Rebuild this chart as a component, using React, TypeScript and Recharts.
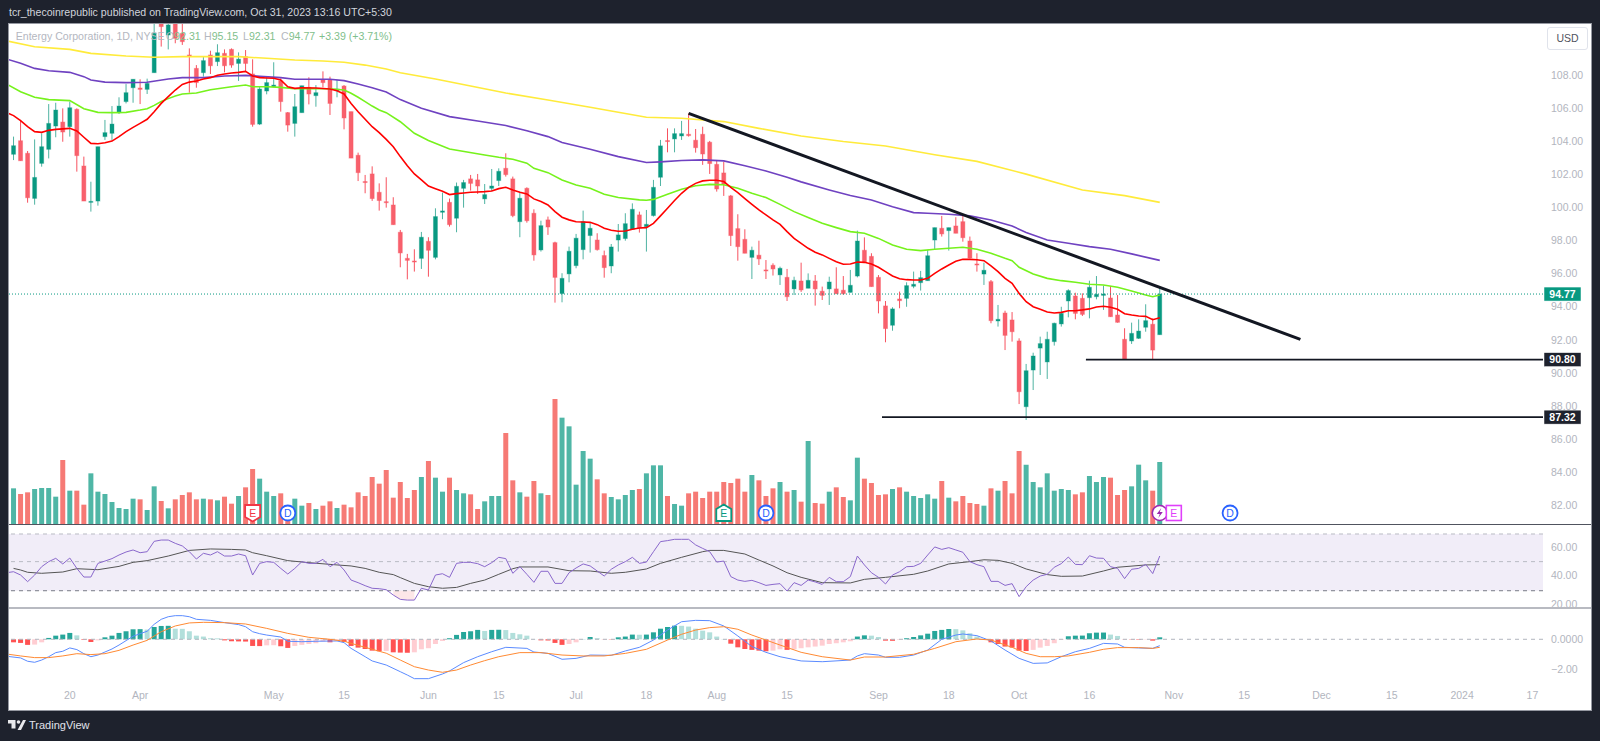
import React from 'react';
import { ComposedChart, Bar, Line, Area, XAxis, YAxis, Cell, ReferenceLine, ReferenceArea, ReferenceDot } from 'recharts';

const FONT = '"Liberation Sans", Arial, sans-serif';
const SLOTS = 219;

const opens = [
105.7,103.23,104.05,103.29,100.56,102.68,103.53,104.94,105.18,104.9,
105.95,102.52,100.32,100.4,104.3,104.5,105.75,106.42,107.26,107.24,
107.16,108.17,111.3,110.45,111.5,110.55,109.24,108.43,108.17,109.24,
108.84,109.34,109.58,108.73,109.14,108.09,105.06,107.06,107.32,107.67,
105.75,105.1,105.75,107.28,106.78,107.73,107.73,107.08,107.36,105.81,
103.17,101.58,102.04,100.93,100.36,100.16,98.51,96.93,96.77,96.93,
97.96,96.99,99.72,100.32,99.36,101.17,101.74,101.68,100.53,101.17,
101.64,102.38,101.74,99.15,101.17,99.66,97.44,99.26,97.88,94.8,
95.99,96.49,97.46,98.31,98.04,97.1,96.47,98.04,98.13,98.69,
99.56,98.85,99.52,101.84,104.06,104.16,104.34,104.44,104.08,104.44,
103.96,102.62,102.1,100.71,98.73,98.08,96.99,97.12,96.23,96.51,
95.93,95.78,95.08,95.56,95.12,95.56,94.94,95.08,95.08,95.0,
94.87,95.86,97.42,97.05,95.78,94.05,92.88,94.47,94.51,95.24,
95.46,95.58,98.04,98.75,98.61,98.89,99.15,97.98,96.59,95.98,
95.52,93.14,93.62,93.2,91.93,87.95,90.17,91.5,90.66,91.89,
92.96,94.35,94.65,94.51,94.55,94.61,94.69,94.53,93.5,92.03,
91.93,92.09,92.76,92.94,92.31];

const closes = [
103.1,103.75,102.84,100.6,101.83,103.69,105.1,105.91,104.58,106.05,
103.15,100.4,100.38,103.69,104.54,105.06,106.15,106.96,107.77,107.16,
107.52,110.55,110.96,111.06,110.25,110.05,109.18,107.57,108.9,108.59,
109.38,108.59,108.63,108.99,108.73,105.04,107.18,107.57,107.42,106.42,
105.0,106.11,107.38,106.88,106.96,107.57,106.31,107.18,105.43,103.0,
102.12,101.52,100.55,100.43,100.3,98.97,97.26,96.81,96.73,98.21,
97.42,99.46,99.8,98.97,101.29,101.52,101.47,101.31,100.79,101.31,
102.2,102.0,99.52,100.57,99.21,97.14,98.91,98.83,95.78,95.72,
97.36,98.15,99.15,98.75,97.46,96.37,97.62,98.35,99.03,99.9,
98.77,98.99,101.23,103.74,104.0,104.48,104.48,104.36,103.63,103.25,
102.67,101.13,101.43,98.31,97.64,97.24,97.42,96.9,96.19,96.29,
96.33,94.61,95.6,95.02,95.6,95.08,94.69,95.5,94.79,94.79,
95.3,97.98,96.71,95.22,94.35,92.68,93.87,94.37,95.28,95.36,
95.76,97.09,98.79,98.41,98.79,98.45,98.18,96.95,96.53,96.21,
93.16,93.24,92.27,92.49,88.86,90.13,91.02,91.77,92.03,93.0,
93.6,94.98,93.6,93.54,95.18,94.75,94.77,93.4,93.06,90.84,
92.39,92.53,93.16,91.38,94.77];

const highs = [
105.9,104.3,105.31,103.43,104.13,104.5,106.27,106.35,106.01,106.42,
106.01,103.09,101.57,103.69,105.31,106.15,106.68,107.48,107.77,107.77,
107.81,111.4,111.8,112,111.7,111.2,109.64,108.63,109.14,109.5,
109.89,109.58,109.64,109.4,109.54,108.98,107.32,107.89,108.8,107.83,
105.79,106.88,107.38,107.89,107.42,108.25,107.93,107.73,107.42,105.81,
103.33,101.98,102.5,101.47,101.84,100.63,98.65,97.2,97.48,98.53,
98.21,99.96,100.91,100.55,101.52,101.68,101.98,102.04,101.43,102.34,
102.38,103.29,101.88,100.97,101.23,99.9,99.21,99.46,97.94,96.03,
97.64,98.41,99.82,99.09,98.45,97.4,97.8,99.01,99.66,100.26,
99.76,99.86,101.68,104.1,104.8,104.8,105.25,105.71,104.76,104.9,
104.04,102.83,102.79,100.77,99.6,98.69,97.64,98.0,96.83,96.63,
96.43,96.29,95.82,96.67,96.02,95.92,95.22,95.82,96.39,95.86,
96.23,98.61,98.2,97.24,95.92,94.35,93.97,94.92,95.48,96.13,
96.17,97.44,98.79,99.5,98.79,99.42,99.5,98.25,97.24,96.67,
95.62,94.11,93.76,93.68,92.09,90.54,91.22,92.19,92.49,93.04,
94.0,95.06,94.85,94.81,95.58,95.86,95.28,95.26,94.71,92.7,
93.04,93.24,94.15,93.3,95.15];

const lows = [
103,102.88,102.84,100.3,100.18,102.48,102.98,104.26,103.99,104.3,
102.18,100.4,99.76,100.12,104.1,104.1,105.67,106.31,106.35,106.27,
106.88,108.17,109.75,109.58,109.95,109.85,106.96,107.26,107.93,108.09,
108.57,108.19,108.47,107.67,108.23,104.9,105.0,106.86,107.28,105.81,
104.6,104.3,105.75,106.25,106.11,107.28,105.61,106.68,104.74,103.0,
101.61,100.87,100.41,99.82,100.0,98.97,96.39,95.66,96.13,96.29,
95.82,96.87,99.3,98.85,98.51,100.0,101.03,100.83,100.22,101.01,
101.31,101.88,99.42,98.21,99.09,96.79,97.34,98.35,94.25,94.27,
95.48,96.33,96.87,97.28,97.4,95.76,96.03,97.34,98.0,98.65,
98.49,97.34,99.46,101.31,103.35,103.35,104.1,104.3,103.33,102.59,
102.04,100.97,100.71,97.68,96.79,97.24,95.68,96.53,95.68,95.89,
95.32,94.35,94.71,94.9,95.12,94.07,94.41,94.11,94.79,94.73,
94.87,95.78,96.69,95.22,93.6,91.85,92.55,93.91,94.0,95.12,
94.98,95.58,97.48,98.25,97.4,98.45,97.94,96.93,96.13,95.32,
93.0,92.8,91.38,91.89,88.11,87.15,88.96,89.87,89.63,91.65,
92.8,93.36,93.24,93.44,93.3,94.45,93.81,93.4,93.04,90.84,
91.75,92.05,92.49,90.84,92.31];

const volumes = [
.82,1.07,.90,.95,1.05,1.08,1.08,.82,1.92,1.00,
1.00,.58,1.52,.97,.90,.66,.48,.45,.76,.74,
.42,1.13,.69,.47,.74,.87,.95,.74,.76,.74,
.71,.82,.61,.84,1.10,1.65,1.36,.97,.84,.92,
.35,.76,.55,.63,.45,.55,.68,.48,.58,.50,
.95,.84,1.41,1.21,1.62,.79,1.26,.78,1.02,1.41,
1.89,1.39,.97,1.39,1.02,.92,.89,.45,.68,.84,
.84,2.73,1.31,.95,.82,1.29,.92,.87,3.75,3.19,
2.93,1.18,2.19,1.96,1.34,.92,.81,.74,.87,1.02,
1.05,1.52,1.76,1.76,.84,.60,.55,.92,.97,.78,
.97,.97,1.26,1.23,1.36,.97,1.47,1.31,.84,1.07,
1.26,.97,1.02,.67,2.49,.63,.61,.97,1.10,.81,
.71,1.99,1.36,1.23,.87,.89,1.05,1.10,.97,.84,
.78,.89,.76,1.29,.79,.68,.84,.63,.60,.55,
1.07,1.00,1.29,.92,2.19,1.78,1.26,1.10,1.52,1.00,
1.05,1.02,.89,.95,1.44,1.26,1.41,1.39,.87,1.02,
1.13,1.78,1.31,1.00,1.86];

const rsi = [
42,42.7,40.4,35.8,40.4,46.2,49.7,52,48.1,52.2,
45,39,39,48.5,50.1,51.8,54.3,56.4,57.8,55.9,
56.6,63.8,64.7,64.7,62.4,60.6,56.6,51.5,55.5,54.3,
56.6,53.6,53.6,55,53.8,40.4,48.5,49.7,49.2,45,
41.1,45,49.7,48.5,48.5,51.3,46.2,49.2,43.9,36.9,
35.1,33,31.2,30.9,30.2,26.5,23.5,23,23,31.2,
30,40.4,41.3,38.8,48.5,49.2,49.2,48.3,46.2,49,
52.7,51.8,41.6,46.2,40.9,35.3,43,43,34.6,34.6,
42,45.3,48.1,46.7,43.2,39.7,44.4,47.4,49.7,52.7,
48.5,49.4,56.6,63.6,64.3,65.2,65.2,65.2,61.3,58.9,
56.6,49.4,50.1,39.3,36.9,36,36.7,35.1,33.2,33.9,
34.4,29.3,35.1,33.2,36.9,35.6,33.9,38.8,35.8,35.8,
39.3,53.6,47.4,42,38.8,34.2,40.4,42.7,46.2,46.4,
48.5,54.3,59.9,58.2,59.4,57.8,56.2,49.7,47.6,46.2,
36,36,33.2,34.4,25.4,32.3,36.9,39.7,40.9,45.8,
48.3,52.9,47.8,47.6,53.8,52.2,52,46.2,45,37.9,
44.4,45,47.8,41.4,53.6];

const macdHist = [
-.18,-.2,-.24,-.37,-.35,-.2,.09,.24,.31,.42,
.26,-.04,-.18,-.07,.13,.24,.42,.53,.66,.67,
.64,.81,.88,.89,.70,.69,.53,.24,.18,.07,
.06,-.07,-.13,-.14,-.15,-.44,-.45,-.40,-.39,-.46,
-.57,-.44,-.37,-.31,-.26,-.15,-.2,-.09,-.18,-.44,
-.55,-.64,-.75,-.79,-.77,-.86,-.88,-.89,-.86,-.66,
-.59,-.31,-.11,.07,.29,.48,.53,.62,.55,.62,
.63,.61,.42,.33,.24,.01,-.07,-.08,-.24,-.37,
-.31,-.2,.01,.15,.07,-.01,-.02,.13,.18,.31,
.30,.31,.46,.70,.81,.90,.89,.84,.70,.57,
.46,.18,.02,-.29,-.53,-.64,-.70,-.75,-.79,-.75,
-.66,-.70,-.66,-.59,-.53,-.48,-.42,-.31,-.26,-.2,
-.13,.18,.26,.24,.15,-.09,-.1,-.04,.07,.15,
.26,.37,.55,.62,.68,.67,.59,.4,.18,.02,
-.2,-.31,-.48,-.55,-.75,-.77,-.70,-.55,-.44,-.26,
-.04,.2,.24,.245,.4,.44,.445,.31,.22,-.01,
-.02,-.03,-.02,-.09,.13];

type Pt = [number, number];

const ma20: Pt[] = [[0,105.75],[1,105.57],[2,105.27],[3,104.9],[4,104.6],[5,104.56],[6,104.68],[7,104.74],[9,104.8],[10,104.64],[11,104.26],[12,103.89],[13,103.87],[14,103.93],[15,104.03],[16,104.3],[17,104.6],[18,104.86],[19,105.1],[20,105.35],[21,105.81],[22,106.31],[23,106.72],[24,107.12],[25,107.46],[26,107.6],[27,107.67],[28,107.79],[29,107.87],[30,108.01],[31,108.09],[32,108.15],[33,108.19],[34,108.25],[35,107.97],[36,107.87],[37,107.85],[38,107.83],[39,107.73],[40,107.32],[41,107.22],[42,107.26],[44,107.24],[46,107.18],[47,107.08],[48,106.88],[49,106.31],[50,105.81],[51,105.35],[52,104.9],[53,104.54],[54,104.13],[55,103.69],[56,103.09],[57,102.54],[58,102.04],[59,101.68],[60,101.31],[61,101.15],[62,100.99],[63,100.79],[64,100.85],[65,100.89],[66,100.93],[67,100.95],[68,100.97],[69,101.01],[70,101.15],[71,101.23],[72,101.07],[73,100.93],[74,100.83],[75,100.53],[76,100.37],[77,100.16],[78,99.76],[79,99.42],[80,99.26],[81,99.15],[82,99.13],[83,99.11],[84,98.97],[85,98.75],[86,98.63],[87,98.57],[88,98.59],[89,98.69],[90,98.77],[91,98.79],[92,99.05],[93,99.5],[94,99.96],[95,100.43],[96,100.87],[97,101.23],[98,101.47],[99,101.62],[100,101.66],[101,101.66],[102,101.58],[103,101.23],[104,100.91],[105,100.55],[106,100.2],[107,99.86],[108,99.56],[109,99.26],[110,98.99],[111,98.55],[112,98.14],[113,97.84],[114,97.54],[115,97.3],[116,97.14],[117,96.93],[118,96.73],[119,96.57],[120,96.59],[121,96.71],[122,96.69],[123,96.59],[124,96.39],[125,96.13],[126,95.86],[127,95.7],[128,95.64],[129,95.62],[130,95.62],[131,95.72],[132,96.02],[133,96.29],[134,96.53],[135,96.75],[136,96.87],[137,96.87],[138,96.85],[139,96.79],[140,96.47],[141,96.13],[142,95.72],[143,95.42],[144,94.81],[145,94.31],[146,94.0],[147,93.85],[148,93.68],[149,93.62],[150,93.66],[151,93.76],[152,93.76],[153,93.81],[154,93.87],[155,93.99],[156,94.03],[157,93.97],[158,93.85],[159,93.58],[160,93.5],[161,93.44],[162,93.42],[163,93.22],[164,93.34]];

const ma50: Pt[] = [[0,107.48],[2,107.02],[4,106.68],[6,106.54],[9,106.48],[11,105.99],[13,105.77],[15,105.75],[17,105.77],[19,105.91],[20,105.99],[21,106.19],[22,106.42],[23,106.6],[24,106.76],[25,106.88],[27,106.94],[29,107.14],[32,107.32],[34,107.42],[35,107.32],[37,107.32],[39,107.28],[41,107.2],[43,107.2],[46,107.2],[48,107.12],[49,106.92],[50,106.68],[51,106.42],[52,106.15],[53,105.91],[54,105.75],[56,105.2],[58,104.5],[60,104.06],[63,103.55],[68,103.19],[70,103.05],[72,102.93],[74,102.69],[75,102.38],[77,102.12],[79,101.68],[81,101.37],[83,101.17],[85,100.81],[87,100.61],[90,100.47],[91,100.45],[92,100.5],[94,100.81],[96,101.11],[98,101.33],[100,101.41],[102,101.39],[104,101.17],[106,100.87],[108,100.61],[110,100.2],[112,99.76],[114,99.4],[116,99.05],[118,98.79],[120,98.55],[122,98.45],[124,98.14],[126,97.74],[128,97.48],[130,97.4],[132,97.48],[134,97.54],[136,97.6],[138,97.48],[140,97.24],[142,96.93],[143,96.79],[144,96.39],[146,95.98],[148,95.72],[150,95.58],[152,95.48],[154,95.36],[156,95.32],[158,95.18],[160,94.96],[162,94.71],[163,94.61],[164,94.71]];

const ma100: Pt[] = [[0,109.0],[2,108.74],[4,108.43],[6,108.29],[9,108.19],[11,107.93],[12,107.73],[14,107.6],[17,107.57],[20,107.59],[23,107.79],[25,107.87],[28,107.87],[31,107.97],[34,108.01],[36,107.95],[39,107.87],[41,107.77],[46,107.77],[48,107.69],[50,107.48],[52,107.26],[54,107.0],[56,106.54],[59,106.02],[63,105.51],[67,105.25],[71,104.97],[74,104.66],[77,104.3],[79,103.94],[83,103.53],[87,103.09],[91,102.73],[93,102.77],[96,102.85],[99,102.89],[102,102.83],[105,102.54],[108,102.22],[111,101.84],[113,101.56],[117,101.07],[120,100.73],[123,100.46],[126,100.06],[129,99.7],[131,99.66],[134,99.6],[137,99.5],[140,99.25],[143,98.89],[145,98.5],[148,98.04],[151,97.84],[154,97.64],[157,97.48],[160,97.2],[164,96.81]];

const ma200: Pt[] = [[0,110.1],[4,109.74],[9,109.58],[12,109.34],[17,109.18],[21,109.1],[25,109.14],[29,109.14],[33,109.14],[37,109.04],[41,108.94],[45,108.88],[48,108.8],[51,108.63],[54,108.39],[56,108.17],[61,107.79],[66,107.36],[71,106.94],[77,106.52],[83,106.08],[87,105.77],[91,105.47],[96,105.41],[102,105.21],[107,104.8],[113,104.34],[119,104.0],[125,103.73],[132,103.2],[138,102.8],[145,102.03],[153,101.07],[159,100.73],[164,100.32]];

const rsiMa: Pt[] = [[1,45],[2,43.9],[3,42.3],[5,41.6],[8,42.5],[10,44.8],[13,44.1],[16,46.4],[18,49.2],[20,50.4],[23,53.6],[26,57.5],[29,58.5],[32,58.2],[34,57.8],[35,55.9],[37,53.8],[40,50.4],[43,49],[47,47.4],[49,46.7],[51,45],[53,42.3],[55,40.7],[56,38.6],[58,34.6],[60,32.3],[62,31.2],[64,31.8],[66,34.6],[68,36.9],[70,40.9],[72,44.8],[73,46],[77,46],[80,43.4],[83,43.2],[86,41.6],[88,42.3],[91,44.6],[93,48.5],[96,52.7],[99,56.6],[100,57.5],[102,57.5],[105,55],[107,50.8],[109,46.7],[111,42],[113,38.8],[116,35.1],[120,34.9],[122,37.4],[125,38.8],[129,40.9],[131,43.2],[134,48.1],[137,49.7],[139,51],[141,50.6],[143,48.5],[145,44.6],[148,40.7],[150,39.5],[153,39.7],[156,43.2],[158,45.8],[162,47.4],[164,47.6]];

const macdLine: Pt[] = [[0,-1.12],[2,-1.23],[3,-1.45],[4,-1.52],[5,-1.37],[6,-1.15],[7,-.88],[8,-.79],[9,-.57],[10,-.68],[11,-.95],[12,-1.15],[13,-1.04],[14,-.84],[15,-.64],[16,-.38],[17,-.09],[18,.2],[19,.37],[20,.53],[21,.99],[22,1.32],[23,1.49],[24,1.56],[25,1.56],[26,1.49],[27,1.32],[29,1.25],[31,1.1],[33,.97],[34,.83],[35,.5],[36,.37],[37,.28],[39,.15],[40,-.13],[42,-.16],[44,-.13],[47,-.11],[48,-.22],[49,-.6],[51,-1.15],[52,-1.43],[54,-1.7],[56,-2.14],[57,-2.36],[58,-2.6],[60,-2.6],[62,-2.29],[63,-2.09],[65,-1.54],[67,-1.15],[69,-.82],[71,-.53],[74,-.6],[75,-.84],[77,-.93],[79,-1.32],[81,-1.26],[83,-1.04],[86,-1.06],[88,-.77],[90,-.53],[92,-.05],[94,.61],[96,1.16],[98,1.25],[100,1.23],[102,.88],[104,.22],[106,-.48],[108,-.86],[110,-1.15],[113,-1.43],[116,-1.48],[120,-1.37],[121,-1.1],[122,-.95],[124,-1.04],[125,-1.19],[127,-1.19],[129,-1.04],[131,-.71],[133,0],[135,.28],[136,.35],[138,.24],[140,-.11],[142,-.71],[144,-1.26],[146,-1.59],[148,-1.56],[150,-1.15],[152,-.82],[154,-.6],[156,-.27],[158,-.31],[159,-.53],[161,-.57],[163,-.6],[164,-.42]];

const macdSignal: Pt[] = [[0,-.97],[2,-1.1],[4,-1.21],[6,-1.21],[8,-1.1],[10,-.95],[12,-1.01],[14,-.95],[16,-.73],[18,-.38],[20,-.07],[22,.5],[24,.88],[26,1.08],[28,1.12],[31,1.1],[34,1.01],[37,.72],[40,.39],[43,.13],[46,0],[48,-.13],[50,-.4],[52,-.66],[54,-.92],[56,-1.37],[58,-1.81],[60,-2.03],[62,-2.18],[64,-2.03],[66,-1.7],[68,-1.41],[70,-1.15],[73,-.88],[76,-.88],[79,-1.04],[82,-1.1],[85,-1.1],[88,-.93],[91,-.66],[94,-.05],[96,.33],[98,.61],[100,.77],[102,.83],[104,.66],[106,.28],[108,-.05],[110,-.38],[113,-.86],[116,-1.15],[120,-1.37],[122,-1.17],[125,-1.17],[129,-.99],[132,-.6],[135,-.16],[138,.02],[140,-.05],[143,-.53],[145,-.93],[147,-1.15],[149,-1.15],[151,-1.1],[154,-.86],[156,-.66],[158,-.55],[161,-.55],[163,-.6],[164,-.53]];

const priceTicks = [82,84,86,88,90,92,94,96,98,100,102,104,106,108];
const rsiTicks = [20,40,60];
const macdTicks = [-2,0];
const rsiBands = [68.9,49.7,29.5];
const timeTickIndex = [9,19,38,48,60,70,81,91,101,111,124,134,144,154,166,176,187,197,207,217];
const timeTickText = ['20','Apr','May','15','Jun','15','Jul','18','Aug','15','Sep','18','Oct','16','Nov','15','Dec','15','2024','17'];
const trendStart = { i: 97, price: 105.71 };
const trendEnd = { i: 184, price: 92.03 };
const lastClose = 94.77;
const supportHigh = { i: 153, price: 90.8 };
const supportLow = { i: 124, price: 87.32 };
const events = [
  { i: 35, kind: 'earnDown', text: 'E', color: '#f23645' },
  { i: 40, kind: 'circle', text: 'D', color: '#2962ff' },
  { i: 102, kind: 'earnUp', text: 'E', color: '#089981' },
  { i: 108, kind: 'circle', text: 'D', color: '#2962ff' },
  { i: 164, kind: 'bolt', text: '', color: '#9c27b0' },
  { i: 166, kind: 'box', text: 'E', color: '#e040fb' },
  { i: 174, kind: 'circle', text: 'D', color: '#2962ff' },
];

const rows: any[] = Array.from({ length: SLOTS }, (_, i) => ({ i }));
opens.forEach((o, i) => {
  const r = rows[i];
  r.open = o; r.close = closes[i]; r.high = highs[i]; r.low = lows[i];
  r.range = [lows[i], highs[i]];
  r.vol = volumes[i];
  r.rsi = rsi[i];
  r.hist = macdHist[i];
  r.histPrev = i > 0 ? macdHist[i - 1] : macdHist[i];
  if (rsi[i] < rsiBands[2]) r.rsiLow = [rsi[i], rsiBands[2]];
});
const put = (pts: Pt[], key: string) => pts.forEach(([i, v]) => { rows[i][key] = v; });
put(ma20, 'ma20'); put(ma50, 'ma50'); put(ma100, 'ma100'); put(ma200, 'ma200');
put(rsiMa, 'rsiMa'); put(macdLine, 'macd'); put(macdSignal, 'signal');

const UP = '#089981';
const DOWN = '#f8606c';

function Candle(p: any) {
  const { x, y, width, height, payload } = p;
  if (!payload || payload.high == null) return null;
  const { open, close, high, low } = payload;
  const up = close >= open;
  const unit = height / (high - low);
  const yOf = (v: number) => y + (high - v) * unit;
  const cx = x + width / 2;
  const top = yOf(Math.max(open, close));
  const bot = yOf(Math.min(open, close));
  const c = up ? UP : DOWN;
  return (
    <g>
      <line x1={cx} x2={cx} y1={y} y2={y + height} stroke={up ? '#4fb3a2' : '#f7525f'} strokeWidth={1} />
      <rect x={cx - 2} y={top} width={4} height={Math.max(bot - top, 1)} fill={c} stroke={up ? 'rgba(8,153,129,0.35)' : 'rgba(247,82,95,0.4)'} strokeWidth={1} />
    </g>
  );
}

function PriceTag({ x, y, text, fill }: any) {
  return (
    <g>
      <rect x={x + 1} y={y - 7} width={37} height={14} fill={fill} stroke="#fff" strokeWidth={0.5} />
      <text x={x + 19.5} y={y + 3.7} textAnchor="middle" fontFamily={FONT} fontSize={10.5} fontWeight={700} fill="#fff">{text}</text>
    </g>
  );
}

function SupportShape(p: any) {
  const { x1, x2, y1, y2, value } = p;
  return (
    <g>
      <line x1={x1} x2={x2} y1={y1} y2={y2} stroke="#131722" strokeWidth={1.6} />
      <PriceTag x={Math.max(x1, x2)} y={y1} text={value} fill="#1e222d" />
    </g>
  );
}

function LastShape(p: any) {
  const { x1, x2, y1, y2 } = p;
  return (
    <g>
      <line x1={x1} x2={x2} y1={y1} y2={y2} stroke="#089981" strokeWidth={1} strokeDasharray="1 2" />
      <PriceTag x={Math.max(x1, x2)} y={y1} text={lastClose.toFixed(2)} fill="#089981" />
    </g>
  );
}

function EventShape(p: any) {
  const { cx, cy, ev } = p;
  const c = ev.color;
  const letter = ev.text ? (
    <text x={cx} y={cy + 4} textAnchor="middle" fontFamily={FONT} fontSize={10.5} fill={c}>{ev.text}</text>
  ) : null;
  if (ev.kind === 'circle') {
    return <g><circle cx={cx} cy={cy} r={7.5} fill="#fff" stroke={c} strokeWidth={1.8} />{letter}</g>;
  }
  if (ev.kind === 'bolt') {
    return (
      <g>
        <circle cx={cx} cy={cy} r={7.5} fill="#fff" stroke={c} strokeWidth={1.6} />
        <path d={`M${cx + 1.5} ${cy - 5}L${cx - 3} ${cy + 1}L${cx} ${cy + 1}L${cx - 1.5} ${cy + 5}L${cx + 3} ${cy - 1}L${cx} ${cy - 1}Z`} fill={c} />
      </g>
    );
  }
  if (ev.kind === 'box') {
    return <g><rect x={cx - 7.5} y={cy - 7.5} width={15} height={15} fill="#fff" stroke={c} strokeWidth={1.6} />{letter}</g>;
  }
  const d = ev.kind === 'earnDown'
    ? `M${cx - 7.5} ${cy - 8}H${cx + 7.5}V${cy + 4}L${cx} ${cy + 8.5}L${cx - 7.5} ${cy + 4}Z`
    : `M${cx - 7.5} ${cy + 8}H${cx + 7.5}V${cy - 4}L${cx} ${cy - 8.5}L${cx - 7.5} ${cy - 4}Z`;
  return <g><path d={d} fill="#fff" stroke={c} strokeWidth={1.8} />{letter}</g>;
}

const histColor = (v: number, prev: number) => {
  if (v >= 0) return v >= prev ? '#26a69a' : '#b2dfdb';
  return v <= prev ? '#ff5252' : '#ffcdd2';
};

const axisTick = { fontFamily: FONT, fontSize: 10.5, fill: '#b2b5be' };
const CHART_W = 1587;
const AXIS_W = 47;
const noMargin = { top: 0, right: 0, bottom: 0, left: 0 };
const valueTicks = { tick: axisTick, tickLine: false, axisLine: false, tickMargin: 2 };

const timeLabel = (v: number) => timeTickText[timeTickIndex.indexOf(v)] ?? '';

export default function App() {
  return (
    <div style={{ position: 'absolute', left: 0, top: 0, width: 1600, height: 741, background: '#1e222d', overflow: 'hidden', fontFamily: FONT }}>
      <div style={{ position: 'absolute', left: 9, top: 6, color: '#d1d4dc', fontSize: 10.6, whiteSpace: 'nowrap' }}>
        tcr_thecoinrepublic published on TradingView.com, Oct 31, 2023 13:16 UTC+5:30
      </div>

      <div style={{ position: 'absolute', left: 9, top: 24, width: 1582, height: 686, background: '#fff', overflow: 'hidden', outline: '1px solid #9598a1' }}>
        <div style={{ position: 'absolute', left: -6, top: 0 }}>
          <ComposedChart width={CHART_W} height={500} data={rows} margin={noMargin}>
            <XAxis dataKey="i" type="category" scale="band" hide />
            <XAxis xAxisId="vol" dataKey="i" type="category" scale="band" hide />
            <YAxis orientation="right" width={AXIS_W} domain={[80.85, 111.117]} ticks={priceTicks} allowDataOverflow interval={0}
              {...valueTicks} tickFormatter={(v: number) => v.toFixed(2)} />
            <YAxis yAxisId="vol" hide domain={[0, 15]} allowDataOverflow />
            <Bar xAxisId="vol" yAxisId="vol" dataKey="vol" barSize={5} isAnimationActive={false}>
              {rows.map((r) => <Cell key={r.i} fill={r.close >= r.open ? '#4fb6a6' : '#f67a75'} />)}
            </Bar>
            <Bar dataKey="range" barSize={5} shape={Candle} isAnimationActive={false} />
            <Line dataKey="ma200" stroke="#ffeb3b" strokeWidth={1.6} dot={false} connectNulls isAnimationActive={false} />
            <Line dataKey="ma100" stroke="#6f42c1" strokeWidth={1.6} dot={false} connectNulls isAnimationActive={false} />
            <Line dataKey="ma50" stroke="#76f21c" strokeWidth={1.6} dot={false} connectNulls isAnimationActive={false} />
            <Line dataKey="ma20" stroke="#ff0000" strokeWidth={1.6} dot={false} connectNulls isAnimationActive={false} />
            <ReferenceLine y={lastClose} shape={LastShape} />
            <ReferenceLine segment={[{ x: trendStart.i, y: trendStart.price }, { x: trendEnd.i, y: trendEnd.price }]} stroke="#131722" strokeWidth={3} />
            <ReferenceLine position="end" segment={[{ x: supportHigh.i, y: supportHigh.price }, { x: SLOTS - 1, y: supportHigh.price }]}
              shape={(p: any) => <SupportShape {...p} value={supportHigh.price.toFixed(2)} />} />
            <ReferenceLine position="end" segment={[{ x: supportLow.i, y: supportLow.price }, { x: SLOTS - 1, y: supportLow.price }]}
              shape={(p: any) => <SupportShape {...p} value={supportLow.price.toFixed(2)} />} />
            {events.map((ev) => (
              <ReferenceDot key={ev.i} xAxisId="vol" yAxisId="vol" x={ev.i} y={0.33} shape={(p: any) => <EventShape {...p} ev={ev} />} />
            ))}
          </ComposedChart>
        </div>

        <div style={{ position: 'absolute', left: -6, top: 500 }}>
          <ComposedChart width={CHART_W} height={84} data={rows} margin={noMargin}>
            <XAxis dataKey="i" type="category" scale="band" hide />
            <YAxis orientation="right" width={AXIS_W} domain={[17.5, 75.84]} ticks={rsiTicks} allowDataOverflow interval={0}
              {...valueTicks} tickFormatter={(v: number) => v.toFixed(2)} />
            <ReferenceArea y1={rsiBands[2]} y2={rsiBands[0]} fill="#7e57c2" fillOpacity={0.11} stroke="none" />
            <ReferenceLine y={rsiBands[0]} stroke="#b9bbc4" strokeDasharray="4 4" />
            <ReferenceLine y={rsiBands[1]} stroke="#b9bbc4" strokeDasharray="4 4" />
            <ReferenceLine y={rsiBands[2]} stroke="#787b86" strokeDasharray="4 4" />
            <Area dataKey="rsiLow" stroke="none" fill="#f23645" fillOpacity={0.12} isAnimationActive={false} />
            <Line dataKey="rsiMa" stroke="#555555" strokeWidth={1} dot={false} connectNulls isAnimationActive={false} />
            <Line dataKey="rsi" stroke="#8a68cc" strokeWidth={1} dot={false} isAnimationActive={false} />
          </ComposedChart>
        </div>

        <div style={{ position: 'absolute', left: -6, top: 584 }}>
          <ComposedChart width={CHART_W} height={102} data={rows} margin={noMargin}>
            <XAxis dataKey="i" type="category" scale="band" height={28} ticks={timeTickIndex} interval={0} tick={axisTick}
              tickLine={false} axisLine={false} tickMargin={4} tickFormatter={timeLabel} />
            <YAxis orientation="right" width={AXIS_W} domain={[-2.82, 2.066]} ticks={macdTicks} allowDataOverflow interval={0}
              {...valueTicks}
              tickFormatter={(v: number) => (v === 0 ? '0.0000' : '\u2212' + Math.abs(v).toFixed(2))} />
            <ReferenceLine y={0} stroke="#b2b5be" strokeDasharray="4 4" />
            <Bar dataKey="hist" barSize={5} isAnimationActive={false}>
              {rows.map((r) => <Cell key={r.i} fill={r.hist == null ? 'none' : histColor(r.hist, r.histPrev)} />)}
            </Bar>
            <Line dataKey="macd" stroke="#5b8bff" strokeWidth={1} dot={false} connectNulls isAnimationActive={false} />
            <Line dataKey="signal" stroke="#ff8a33" strokeWidth={1} dot={false} connectNulls isAnimationActive={false} />
          </ComposedChart>
        </div>

        <div style={{ position: 'absolute', left: 0, top: 499.5, width: 1582, height: 1, background: '#50535e' }} />
        <div style={{ position: 'absolute', left: 0, top: 583, width: 1582, height: 1.5, background: '#b8bac1' }} />

        <div style={{ position: 'absolute', left: 1538, top: 3, width: 39, height: 21, border: '1px solid #e0e3eb', borderRadius: 3, background: '#fff', color: '#50535e', fontSize: 10.5, lineHeight: '21px', textAlign: 'center' }}>USD</div>

        <div style={{ position: 'absolute', left: 0, top: 0, height: 24, fontSize: 10.6, whiteSpace: 'nowrap' }}>
          <span style={{ position: 'absolute', left: 6.7, top: 6, color: '#b4b7bf' }}>Entergy Corporation, 1D, NYSE</span>
          <span style={{ position: 'absolute', left: 157, top: 6, color: '#b4b7bf' }}>O<span style={{ color: '#7fc08c' }}>92.31</span></span>
          <span style={{ position: 'absolute', left: 195, top: 6, color: '#b4b7bf' }}>H<span style={{ color: '#7fc08c' }}>95.15</span></span>
          <span style={{ position: 'absolute', left: 234, top: 6, color: '#b4b7bf' }}>L<span style={{ color: '#7fc08c' }}>92.31</span></span>
          <span style={{ position: 'absolute', left: 272, top: 6, color: '#b4b7bf' }}>C<span style={{ color: '#7fc08c' }}>94.77</span></span>
          <span style={{ position: 'absolute', left: 310, top: 6, color: '#7fc08c' }}>+3.39 (+3.71%)</span>
        </div>
      </div>

      <svg style={{ position: 'absolute', left: 8, top: 720 }} width={18} height={11} viewBox="0 0 18 11">
        <path d="M0 0H7.5V8.5H3.5V3.5H0Z M15 0H18L13 10H9.5Z" fill="#e8e9ec" />
        <circle cx={10.5} cy={2} r={1.8} fill="#e8e9ec" />
      </svg>
      <div style={{ position: 'absolute', left: 29, top: 719, color: '#e0e3eb', fontSize: 11, fontWeight: 500 }}>TradingView</div>
    </div>
  );
}
